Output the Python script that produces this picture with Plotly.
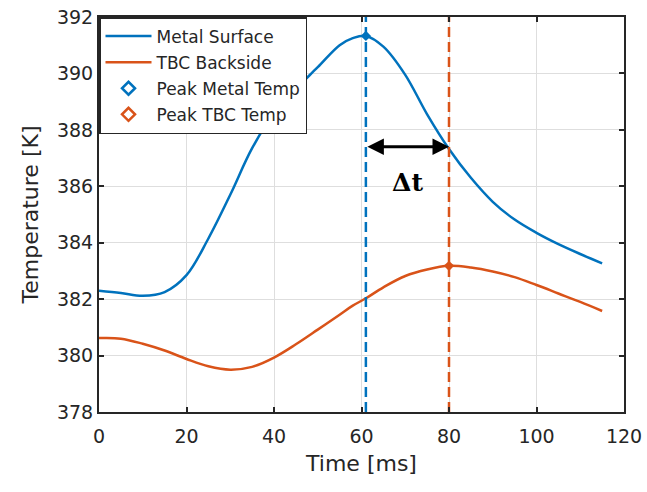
import plotly.graph_objects as go

# Time axis [ms]
time_ms = [0, 5, 10, 15, 20, 25, 30, 35, 40, 45, 50, 55, 58, 61, 65, 70, 75,
           80, 85, 90, 95, 100, 105, 110, 115]

# Metal surface temperature [K]
metal_temp = [382.30, 382.22, 382.12, 382.25, 382.85, 384.15, 385.70, 387.35,
              388.60, 389.45, 390.22, 391.00, 391.25, 391.33, 390.95, 389.95,
              388.55, 387.32, 386.30, 385.45, 384.82, 384.35, 383.95, 383.60,
              383.27]

# TBC backside temperature [K]
tbc_temp = [380.62, 380.60, 380.42, 380.18, 379.88, 379.62, 379.50, 379.60,
            379.93, 380.40, 380.92, 381.45, 381.77, 382.03, 382.42, 382.82,
            383.05, 383.18, 383.12, 382.98, 382.78, 382.50, 382.20, 381.90,
            381.58]

# Peaks
peak_metal_t, peak_metal_T = 61, 391.33
peak_tbc_t, peak_tbc_T = 80, 383.18

x_ticks = [0, 20, 40, 60, 80, 100, 120]
y_ticks = [378, 380, 382, 384, 386, 388, 390, 392]

BLUE = "#0072BD"
ORANGE = "#D95319"
AXIS = "#262626"
FONT = "DejaVu Sans, Verdana, sans-serif"

fig = go.Figure()

fig.add_trace(go.Scatter(x=time_ms, y=metal_temp, mode="lines",
                         name="Metal Surface", legendgroup="a",
                         line=dict(color=BLUE, width=2.5, shape="spline")))
fig.add_trace(go.Scatter(x=time_ms, y=tbc_temp, mode="lines",
                         name="TBC Backside", legendgroup="b",
                         line=dict(color=ORANGE, width=2.5, shape="spline")))

# vertical dashed lines through the peaks
for t, c in [(peak_metal_t, BLUE), (peak_tbc_t, ORANGE)]:
    fig.add_trace(go.Scatter(x=[t, t], y=[y_ticks[0], y_ticks[-1]], mode="lines",
                             showlegend=False, hoverinfo="skip",
                             line=dict(color=c, width=2.5, dash="10px,5px")))

# peak markers on the curves
fig.add_trace(go.Scatter(x=[peak_metal_t], y=[peak_metal_T], mode="markers",
                         showlegend=False,
                         marker=dict(symbol="diamond", size=8, color=BLUE)))
fig.add_trace(go.Scatter(x=[peak_tbc_t], y=[peak_tbc_T], mode="markers",
                         showlegend=False,
                         marker=dict(symbol="diamond", size=8, color=ORANGE)))

# legend entries for the peak markers
fig.add_trace(go.Scatter(x=[None], y=[None], mode="markers",
                         name="Peak Metal Temp", legendgroup="c",
                         marker=dict(symbol="diamond-open", size=10,
                                     color=BLUE, line=dict(width=2.5))))
fig.add_trace(go.Scatter(x=[None], y=[None], mode="markers",
                         name="Peak TBC Temp", legendgroup="d",
                         marker=dict(symbol="diamond-open", size=10,
                                     color=ORANGE, line=dict(width=2.5))))

# double-headed arrow marking the delay between the peaks
arrow_y = 387.4
fig.add_annotation(x=peak_tbc_t, y=arrow_y, ax=peak_metal_t, ay=arrow_y,
                   xref="x", yref="y", axref="x", ayref="y",
                   text="", showarrow=True, arrowhead=2, startarrowhead=2,
                   arrowside="end+start", arrowsize=1.1, arrowwidth=3,
                   arrowcolor="black")
fig.add_annotation(x=(peak_metal_t + peak_tbc_t) / 2, y=386.15, xref="x", yref="y",
                   text="<b>Δt</b>", showarrow=False,
                   font=dict(family="DejaVu Serif, Liberation Serif, serif",
                             size=25, color="black"))

fig.update_layout(
    width=647, height=492,
    margin=dict(l=99, r=23, t=17, b=80),
    paper_bgcolor="white", plot_bgcolor="white",
    font=dict(family=FONT, color=AXIS),
    showlegend=True,
    legend=dict(x=0, y=1, xanchor="left", yanchor="top",
                bgcolor="white", bordercolor=AXIS, borderwidth=1.5,
                font=dict(family=FONT, size=17, color=AXIS),
                tracegroupgap=1, itemwidth=46),
)

fig.update_xaxes(range=[0, 120], tickvals=x_ticks, ticks="inside", ticklen=5,
                 tickcolor=AXIS, tickwidth=1.5, automargin=False,
                 showline=True, linecolor=AXIS, linewidth=2, mirror="ticks",
                 showgrid=True, gridcolor="#dedede", gridwidth=1, zeroline=False,
                 tickfont=dict(size=19, color=AXIS), ticklabelstandoff=6,
                 title=dict(text="Time [ms]", font=dict(size=22, color=AXIS), standoff=10))
fig.update_yaxes(range=[378, 392], tickvals=y_ticks, ticks="inside", ticklen=5,
                 tickcolor=AXIS, tickwidth=1.5, automargin=False,
                 showline=True, linecolor=AXIS, linewidth=2, mirror="ticks",
                 showgrid=True, gridcolor="#dedede", gridwidth=1, zeroline=False,
                 tickfont=dict(size=19, color=AXIS),
                 title=dict(text="Temperature [K]", font=dict(size=22, color=AXIS), standoff=12))

fig.write_html("out.html")
